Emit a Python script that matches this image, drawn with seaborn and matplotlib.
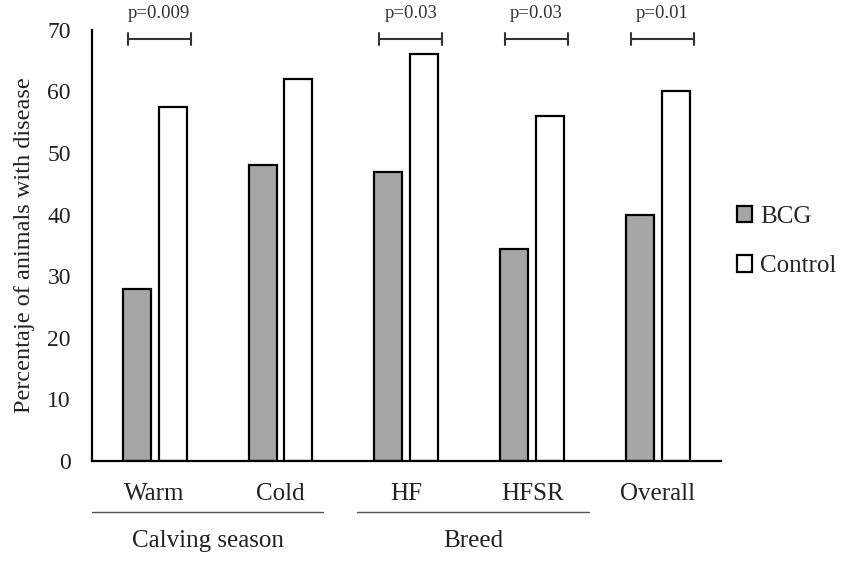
import pandas as pd
import matplotlib.pyplot as plt
import seaborn as sns

categories = ["Warm", "Cold", "HF", "HFSR", "Overall"]
bcg = [28, 48, 47, 34.5, 40]
control = [57.5, 62, 66, 56, 60]
groups = ["BCG", "Control"]
p_values = {"Warm": "p=0.009", "HF": "p=0.03", "HFSR": "p=0.03", "Overall": "p=0.01"}
group_labels = [("Calving season", -0.5, 1.34), ("Breed", 1.61, 3.45)]

df = pd.DataFrame({
    "category": categories * 2,
    "group": [groups[0]] * len(categories) + [groups[1]] * len(categories),
    "value": bcg + control,
})

sns.set_style("white")
plt.rcParams["font.family"] = ["Liberation Serif", "DejaVu Serif"]

fig = plt.figure(figsize=(8.5, 5.63), dpi=100)
ax = fig.add_axes([0.108, 0.181, 0.74, 0.766])

sns.barplot(data=df, x="category", y="value", hue="group", order=categories,
            hue_order=groups, palette={"BCG": "#a6a6a6", "Control": "white"},
            width=0.57, gap=0.22, edgecolor="black", linewidth=1.6,
            ax=ax, legend=True)

ax.set_xlim(-0.5, 4.5)
ax.set_ylim(0, 70)
ax.set_yticks(range(0, 71, 10))
ax.set_xlabel("")
ax.set_ylabel("Percentaje of animals with disease", fontsize=17.5, color="#222222", labelpad=9)
ax.tick_params(axis="y", labelsize=17, length=0, pad=15, colors="#222222")
ax.tick_params(axis="x", labelsize=18, length=0, pad=16, colors="#222222")
for side in ["top", "right"]:
    ax.spines[side].set_visible(False)
for side in ["left", "bottom"]:
    ax.spines[side].set_color("black")
    ax.spines[side].set_linewidth(1.6)

# significance brackets
for i, cat in enumerate(categories):
    if cat not in p_values:
        continue
    x0, x1 = i - 0.215, i + 0.285
    y = 68.5
    ax.plot([x0, x1], [y, y], color="#333333", lw=1.5, clip_on=False)
    ax.plot([x0, x0], [y - 1, y + 1], color="#333333", lw=1.5, clip_on=False)
    ax.plot([x1, x1], [y - 1, y + 1], color="#333333", lw=1.5, clip_on=False)
    ax.text((x0 + x1) / 2, 72.6, p_values[cat], ha="center", va="center",
            fontsize=13.5, color="#333333", clip_on=False)

# group lines below the axis
for label, x0, x1 in group_labels:
    y_line = -51 / 431
    ax.plot([x0, x1], [y_line, y_line], color="#555555", lw=1.0,
            transform=ax.get_xaxis_transform(), clip_on=False)
    ax.text((x0 + x1) / 2, -80 / 431, label, ha="center", va="center",
            fontsize=18, color="#222222", transform=ax.get_xaxis_transform())

handles, labels = ax.get_legend_handles_labels()
ax.legend(handles, labels, loc="center left", bbox_to_anchor=(0.867, 0.571),
          bbox_transform=fig.transFigure, frameon=False, fontsize=18,
          handlelength=0.62, handleheight=0.62, handletextpad=0.3, labelspacing=1.1,
          borderpad=0, borderaxespad=0)

plt.savefig("out.png", dpi=100)
